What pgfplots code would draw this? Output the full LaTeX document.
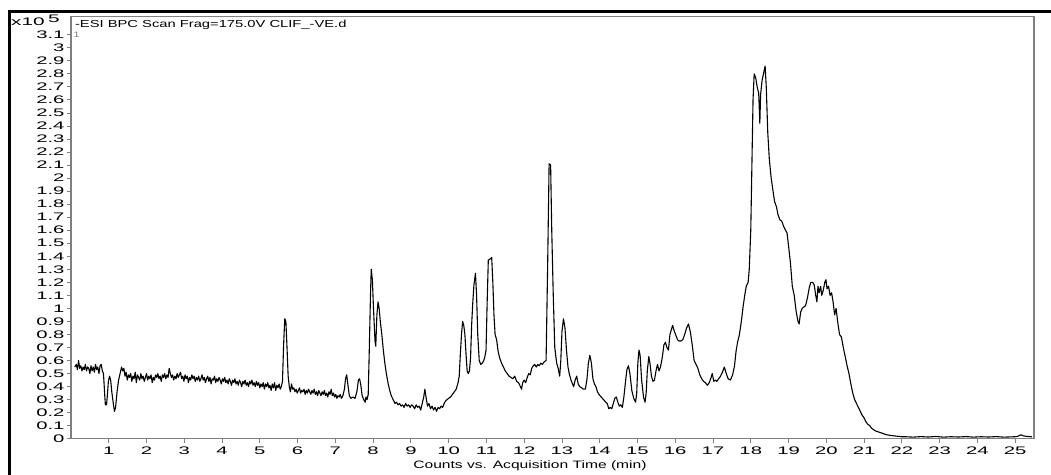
\documentclass[border=0pt]{standalone}
\usepackage{pgfplots}
\pgfplotsset{compat=1.18}
\usepackage{graphicx}
\usepackage{fontspec}
\setmainfont{Liberation Sans}[FakeStretch=1.45]
\newfontfamily\tickfont{Liberation Sans}[FakeStretch=1.9]
\newfontfamily\plainfont{Liberation Sans}
\newcommand{\tl}[1]{\scalebox{1.85}[1]{\plainfont\fontsize{11}{12}\selectfont #1}}
\definecolor{axgray}{HTML}{7F7F7F}
\begin{document}
\begin{tikzpicture}
\begin{axis}[
  at={(71bp,36.3bp)}, anchor=south west,
  scale only axis, width=963bp, height=422.2bp,
  xmin=0, xmax=25.5, ymin=0, ymax=3.24,
  axis line style={axgray, line width=1.2bp},
  tick style={axgray, line width=0.8bp},
  tick align=outside, major tick length=4bp,
  xtick pos=bottom, ytick pos=left,
  xtick={1,2,...,25},
  xticklabels={\tl{1},\tl{2},\tl{3},\tl{4},\tl{5},\tl{6},\tl{7},\tl{8},\tl{9},\tl{10},\tl{11},\tl{12},\tl{13},\tl{14},\tl{15},\tl{16},\tl{17},\tl{18},\tl{19},\tl{20},\tl{21},\tl{22},\tl{23},\tl{24},\tl{25}},
  ytick={0,0.1,0.2,0.3,0.4,0.5,0.6,0.7,0.8,0.9,1,1.1,1.2,1.3,1.4,1.5,1.6,1.7,1.8,1.9,2,2.1,2.2,2.3,2.4,2.5,2.6,2.7,2.8,2.9,3,3.1},
  yticklabels={\tl{0},\tl{0.1},\tl{0.2},\tl{0.3},\tl{0.4},\tl{0.5},\tl{0.6},\tl{0.7},\tl{0.8},\tl{0.9},\tl{1},\tl{1.1},\tl{1.2},\tl{1.3},\tl{1.4},\tl{1.5},\tl{1.6},\tl{1.7},\tl{1.8},\tl{1.9},\tl{2},\tl{2.1},\tl{2.2},\tl{2.3},\tl{2.4},\tl{2.5},\tl{2.6},\tl{2.7},\tl{2.8},\tl{2.9},\tl{3},\tl{3.1}},
  /pgf/number format/assume math mode=true,
  ticklabel style={text=black},
  yticklabel style={xshift=1bp},
  xticklabel style={yshift=-0.5bp},
  xlabel={Counts vs. Acquisition Time (min)},
  xlabel style={font=\fontsize{10.8}{12}\selectfont, at={(rel axis cs:0.4766,0)}, anchor=center, yshift=-27.5bp},
  clip=true,
]
\addplot[black, line width=1.1bp, line join=round] table {
0.10 0.55
0.14 0.57
0.17 0.53
0.20 0.60
0.23 0.54
0.26 0.56
0.29 0.52
0.32 0.55
0.35 0.53
0.38 0.57
0.41 0.52
0.44 0.55
0.47 0.54
0.50 0.50
0.53 0.56
0.56 0.52
0.59 0.55
0.62 0.51
0.65 0.57
0.68 0.53
0.71 0.55
0.74 0.50
0.77 0.56
0.80 0.57
0.83 0.52
0.86 0.50
0.89 0.35
0.91 0.26
0.94 0.26
0.96 0.32
0.99 0.44
1.02 0.48
1.05 0.45
1.08 0.36
1.12 0.27
1.15 0.21
1.18 0.24
1.22 0.36
1.26 0.45
1.30 0.50
1.34 0.55
1.37 0.52
1.40 0.54
1.43 0.48
1.46 0.51
1.49 0.45
1.52 0.49
1.55 0.47
1.58 0.50
1.61 0.44
1.64 0.48
1.67 0.46
1.70 0.51
1.73 0.43
1.76 0.49
1.79 0.47
1.82 0.45
1.85 0.50
1.88 0.46
1.91 0.48
1.94 0.44
1.97 0.47
2.00 0.50
2.03 0.45
2.06 0.48
2.09 0.46
2.12 0.49
2.15 0.43
2.18 0.47
2.21 0.45
2.24 0.49
2.27 0.47
2.30 0.50
2.33 0.46
2.36 0.48
2.39 0.44
2.42 0.49
2.45 0.47
2.48 0.50
2.51 0.46
2.54 0.49
2.57 0.47
2.60 0.54
2.63 0.50
2.66 0.47
2.69 0.49
2.72 0.45
2.75 0.48
2.78 0.46
2.81 0.50
2.84 0.47
2.87 0.49
2.90 0.51
2.93 0.46
2.96 0.48
2.99 0.44
3.02 0.49
3.05 0.46
3.08 0.48
3.11 0.43
3.14 0.47
3.17 0.45
3.20 0.49
3.23 0.46
3.26 0.48
3.29 0.44
3.32 0.47
3.35 0.45
3.38 0.48
3.41 0.44
3.44 0.46
3.47 0.49
3.50 0.45
3.53 0.47
3.56 0.43
3.59 0.46
3.62 0.48
3.65 0.44
3.68 0.47
3.71 0.42
3.74 0.46
3.77 0.45
3.80 0.48
3.83 0.43
3.86 0.46
3.89 0.44
3.92 0.47
3.95 0.45
3.98 0.42
4.01 0.46
4.04 0.44
4.07 0.47
4.10 0.43
4.13 0.45
4.16 0.42
4.19 0.46
4.22 0.44
4.25 0.41
4.28 0.45
4.31 0.43
4.34 0.46
4.37 0.42
4.40 0.44
4.43 0.41
4.46 0.45
4.49 0.43
4.52 0.40
4.55 0.44
4.58 0.42
4.61 0.45
4.64 0.41
4.67 0.43
4.70 0.40
4.73 0.44
4.76 0.42
4.79 0.45
4.82 0.41
4.85 0.43
4.88 0.40
4.91 0.44
4.94 0.41
4.97 0.43
5.00 0.39
5.03 0.42
5.06 0.40
5.09 0.43
5.12 0.38
5.15 0.42
5.18 0.40
5.21 0.43
5.24 0.39
5.27 0.41
5.30 0.37
5.33 0.42
5.36 0.39
5.39 0.43
5.42 0.37
5.45 0.41
5.48 0.39
5.51 0.42
5.54 0.38
5.57 0.40
5.60 0.44
5.63 0.72
5.66 0.92
5.69 0.90
5.72 0.70
5.75 0.48
5.78 0.40
5.81 0.36
5.84 0.42
5.87 0.38
5.90 0.39
5.93 0.36
5.96 0.38
5.99 0.35
6.02 0.37
6.05 0.39
6.08 0.35
6.11 0.37
6.14 0.36
6.17 0.38
6.20 0.34
6.23 0.37
6.26 0.35
6.29 0.38
6.32 0.36
6.35 0.34
6.38 0.37
6.41 0.35
6.44 0.38
6.47 0.34
6.50 0.36
6.53 0.33
6.56 0.37
6.59 0.35
6.62 0.33
6.65 0.36
6.68 0.34
6.71 0.37
6.74 0.33
6.77 0.35
6.80 0.32
6.83 0.36
6.86 0.34
6.89 0.38
6.92 0.33
6.95 0.35
6.98 0.32
7.01 0.34
7.04 0.31
7.07 0.33
7.10 0.32
7.13 0.34
7.16 0.31
7.20 0.33
7.24 0.38
7.27 0.46
7.30 0.49
7.33 0.42
7.37 0.33
7.41 0.31
7.46 0.32
7.52 0.31
7.57 0.36
7.61 0.45
7.64 0.46
7.67 0.42
7.71 0.33
7.75 0.30
7.79 0.28
7.81 0.32
7.84 0.30
7.87 0.34
7.90 0.70
7.93 1.10
7.95 1.30
7.98 1.22
8.01 1.00
8.05 0.75
8.07 0.71
8.10 0.95
8.13 1.05
8.16 1.00
8.19 0.90
8.23 0.80
8.27 0.68
8.31 0.58
8.35 0.50
8.40 0.42
8.44 0.37
8.48 0.33
8.53 0.30
8.58 0.27
8.62 0.28
8.66 0.26
8.70 0.27
8.74 0.25
8.78 0.26
8.82 0.24
8.86 0.27
8.90 0.25
8.94 0.26
8.98 0.24
9.02 0.26
9.06 0.25
9.10 0.23
9.14 0.26
9.18 0.24
9.22 0.25
9.26 0.22
9.30 0.27
9.34 0.32
9.37 0.38
9.40 0.32
9.44 0.25
9.48 0.27
9.52 0.23
9.56 0.25
9.60 0.22
9.64 0.24
9.68 0.21
9.72 0.24
9.76 0.23
9.80 0.25
9.84 0.24
9.88 0.27
9.92 0.29
9.96 0.30
10.00 0.31
10.05 0.32
10.10 0.34
10.15 0.36
10.20 0.38
10.25 0.43
10.28 0.48
10.31 0.65
10.34 0.80
10.37 0.90
10.40 0.87
10.43 0.80
10.46 0.65
10.49 0.52
10.52 0.50
10.55 0.52
10.58 0.62
10.61 0.88
10.64 1.05
10.67 1.18
10.71 1.27
10.74 1.10
10.77 0.80
10.81 0.60
10.85 0.57
10.89 0.58
10.93 0.60
10.96 0.63
10.99 0.68
11.02 1.05
11.05 1.37
11.10 1.38
11.14 1.39
11.17 1.20
11.20 0.95
11.23 0.80
11.27 0.76
11.31 0.67
11.35 0.62
11.40 0.58
11.45 0.55
11.50 0.52
11.55 0.50
11.60 0.48
11.65 0.47
11.70 0.46
11.75 0.48
11.80 0.44
11.85 0.43
11.90 0.40
11.93 0.38
11.96 0.43
12.00 0.45
12.04 0.43
12.08 0.47
12.12 0.50
12.16 0.49
12.20 0.54
12.24 0.56
12.28 0.57
12.32 0.55
12.36 0.57
12.40 0.56
12.44 0.58
12.48 0.57
12.53 0.59
12.58 0.60
12.62 1.30
12.66 2.11
12.70 2.10
12.73 1.60
12.77 1.10
12.81 0.70
12.86 0.58
12.90 0.54
12.94 0.48
12.97 0.60
13.00 0.82
13.04 0.92
13.08 0.85
13.12 0.68
13.16 0.55
13.20 0.49
13.24 0.45
13.28 0.42
13.31 0.40
13.35 0.45
13.39 0.48
13.43 0.42
13.47 0.40
13.52 0.39
13.57 0.38
13.62 0.38
13.66 0.45
13.70 0.58
13.74 0.64
13.78 0.58
13.82 0.46
13.86 0.42
13.90 0.40
13.94 0.36
13.98 0.34
14.04 0.32
14.10 0.30
14.16 0.28
14.20 0.27
14.24 0.23
14.28 0.24
14.32 0.23
14.36 0.27
14.40 0.31
14.44 0.32
14.48 0.28
14.52 0.25
14.56 0.26
14.60 0.24
14.64 0.32
14.68 0.43
14.72 0.53
14.76 0.56
14.80 0.50
14.85 0.37
14.90 0.31
14.95 0.28
14.98 0.35
15.01 0.58
15.04 0.68
15.07 0.64
15.11 0.45
15.16 0.32
15.20 0.28
15.23 0.35
15.26 0.52
15.30 0.63
15.33 0.58
15.37 0.48
15.41 0.44
15.45 0.45
15.49 0.52
15.53 0.57
15.57 0.52
15.61 0.55
15.66 0.63
15.70 0.72
15.74 0.74
15.78 0.70
15.82 0.68
15.86 0.80
15.90 0.84
15.93 0.87
15.97 0.83
16.02 0.79
16.06 0.76
16.10 0.75
16.15 0.75
16.20 0.76
16.25 0.80
16.30 0.85
16.35 0.88
16.40 0.82
16.45 0.72
16.50 0.60
16.55 0.57
16.60 0.54
16.65 0.49
16.70 0.46
16.75 0.44
16.80 0.43
16.85 0.41
16.90 0.43
16.95 0.47
16.98 0.50
17.02 0.44
17.06 0.45
17.10 0.44
17.15 0.46
17.20 0.48
17.25 0.51
17.30 0.55
17.34 0.51
17.40 0.46
17.46 0.45
17.52 0.49
17.57 0.56
17.61 0.67
17.65 0.74
17.70 0.80
17.75 0.90
17.80 1.02
17.84 1.10
17.88 1.17
17.93 1.20
17.96 1.30
18.00 1.60
18.03 2.10
18.06 2.60
18.09 2.80
18.13 2.77
18.17 2.70
18.21 2.65
18.24 2.42
18.26 2.64
18.30 2.75
18.35 2.82
18.38 2.86
18.41 2.70
18.45 2.35
18.49 2.15
18.54 2.00
18.59 1.90
18.63 1.82
18.68 1.78
18.72 1.72
18.77 1.68
18.82 1.67
18.87 1.63
18.92 1.60
18.96 1.58
19.00 1.48
19.05 1.35
19.10 1.17
19.15 1.10
19.20 0.98
19.25 0.90
19.28 0.88
19.32 0.97
19.36 1.00
19.40 1.01
19.45 1.02
19.50 1.08
19.55 1.16
19.59 1.20
19.64 1.20
19.68 1.18
19.72 1.10
19.75 1.05
19.78 1.17
19.81 1.12
19.85 1.17
19.88 1.10
19.92 1.14
19.96 1.20
19.99 1.22
20.02 1.15
20.06 1.17
20.10 1.10
20.14 1.12
20.18 1.05
20.22 0.95
20.26 1.00
20.30 0.90
20.35 0.80
20.40 0.78
20.45 0.70
20.50 0.63
20.55 0.56
20.60 0.50
20.65 0.42
20.70 0.35
20.75 0.30
20.80 0.27
20.85 0.24
20.90 0.21
20.95 0.18
21.00 0.16
21.05 0.13
21.10 0.11
21.15 0.10
21.20 0.08
21.30 0.06
21.40 0.05
21.50 0.04
21.60 0.03
21.70 0.025
21.85 0.02
22.00 0.015
22.10 0.015
22.30 0.012
22.50 0.016
22.70 0.013
22.90 0.017
23.10 0.012
23.30 0.015
23.50 0.013
23.70 0.016
23.90 0.012
24.10 0.015
24.30 0.013
24.50 0.016
24.70 0.012
24.90 0.014
25.05 0.016
25.15 0.030
25.22 0.022
25.30 0.018
25.45 0.014
};
\node[anchor=west, text=axgray, font=\fontsize{8}{9}\selectfont, inner sep=0pt] at (axis cs:0.06,3.1) {1};
\node[anchor=base west, inner sep=0pt, font=\fontsize{10.2}{12}\selectfont] at (rel axis cs:0.004,0.975) {-ESI BPC Scan Frag=175.0V CLIF\_-VE.d};
\end{axis}
\node[anchor=base west, inner sep=0pt, font=\tickfont\fontsize{11}{12}\selectfont] at (11bp,449bp) {x10};
\node[anchor=base west, inner sep=0pt, font=\tickfont\fontsize{11}{12}\selectfont] at (48bp,452bp) {5};
\draw[line width=3bp, black] (9bp,-10bp) -- (9bp,463bp) -- (1070bp,463bp);
\pgfresetboundingbox
\useasboundingbox (0,0) rectangle (1051bp,475bp);
\end{tikzpicture}
\end{document}
